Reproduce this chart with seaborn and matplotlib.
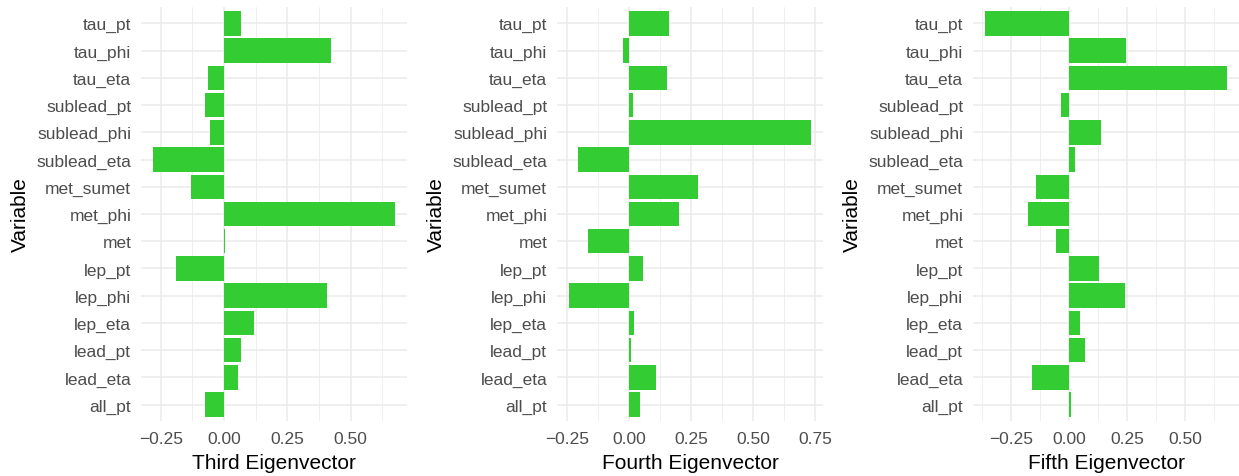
import matplotlib
matplotlib.use("Agg")
import matplotlib.pyplot as plt
from matplotlib.ticker import MultipleLocator, FuncFormatter
import numpy as np
import pandas as pd
import seaborn as sns

# Variables, listed top to bottom as displayed
variables = ["tau_pt", "tau_phi", "tau_eta", "sublead_pt", "sublead_phi",
             "sublead_eta", "met_sumet", "met_phi", "met", "lep_pt",
             "lep_phi", "lep_eta", "lead_pt", "lead_eta", "all_pt"]

third_eigenvector = [0.065, 0.423, -0.064, -0.076, -0.056,
                     -0.280, -0.131, 0.674, 0.004, -0.190,
                     0.407, 0.120, 0.065, 0.054, -0.076]

fourth_eigenvector = [0.160, -0.026, 0.152, 0.015, 0.733,
                      -0.207, 0.277, 0.200, -0.167, 0.055,
                      -0.243, 0.019, 0.007, 0.108, 0.043]

fifth_eigenvector = [-0.361, 0.247, 0.680, -0.036, 0.136,
                     0.024, -0.143, -0.177, -0.057, 0.131,
                     0.243, 0.046, 0.067, -0.160, 0.007]

panels = [("Third Eigenvector", third_eigenvector),
          ("Fourth Eigenvector", fourth_eigenvector),
          ("Fifth Eigenvector", fifth_eigenvector)]

sns.set_theme(style="white")
plt.rcParams["font.family"] = ["Liberation Sans", "DejaVu Sans"]

fig = plt.figure(figsize=(12.39, 4.77), dpi=100)

left_edges = [141, 557, 973]
panel_w = 266
top_px, bottom_px = 8, 422
W, H = 1239, 477

bar_color = "#33CC33"
grid_color = "#EBEBEB"
tick_color = "#4D4D4D"


def fmt(v, _pos):
    return f"{v:.2f}".replace("-", "\u2212")


for (title, values), lx in zip(panels, left_edges):
    ax = fig.add_axes([lx / W, 1 - bottom_px / H, panel_w / W, (bottom_px - top_px) / H])
    df = pd.DataFrame({"Variable": variables, "value": values})
    sns.barplot(data=df, x="value", y="Variable", order=variables,
                color=bar_color, saturation=1, width=0.9, ax=ax, zorder=3)
    for p in ax.patches:
        p.set_edgecolor("none")

    lo, hi = min(min(values), 0), max(max(values), 0)
    pad = 0.05 * (hi - lo)
    ax.set_xlim(lo - pad, hi + pad)
    ax.set_ylim(len(variables) - 0.4, -0.6)

    ax.xaxis.set_major_locator(MultipleLocator(0.25))
    ax.xaxis.set_minor_locator(MultipleLocator(0.125))
    ax.xaxis.set_major_formatter(FuncFormatter(fmt))

    ax.grid(True, which="major", axis="both", color=grid_color, linewidth=1.1, zorder=0)
    ax.grid(True, which="minor", axis="x", color=grid_color, linewidth=0.55, zorder=0)
    ax.set_axisbelow(True)
    for s in ax.spines.values():
        s.set_visible(False)

    ax.tick_params(axis="both", which="both", length=0, labelsize=12.5,
                   labelcolor=tick_color, pad=7)
    ax.set_xlabel(title, fontsize=15, color="black", labelpad=5)
    ax.set_ylabel("Variable", fontsize=15, color="black", labelpad=5)

fig.savefig("out.png", dpi=100)
